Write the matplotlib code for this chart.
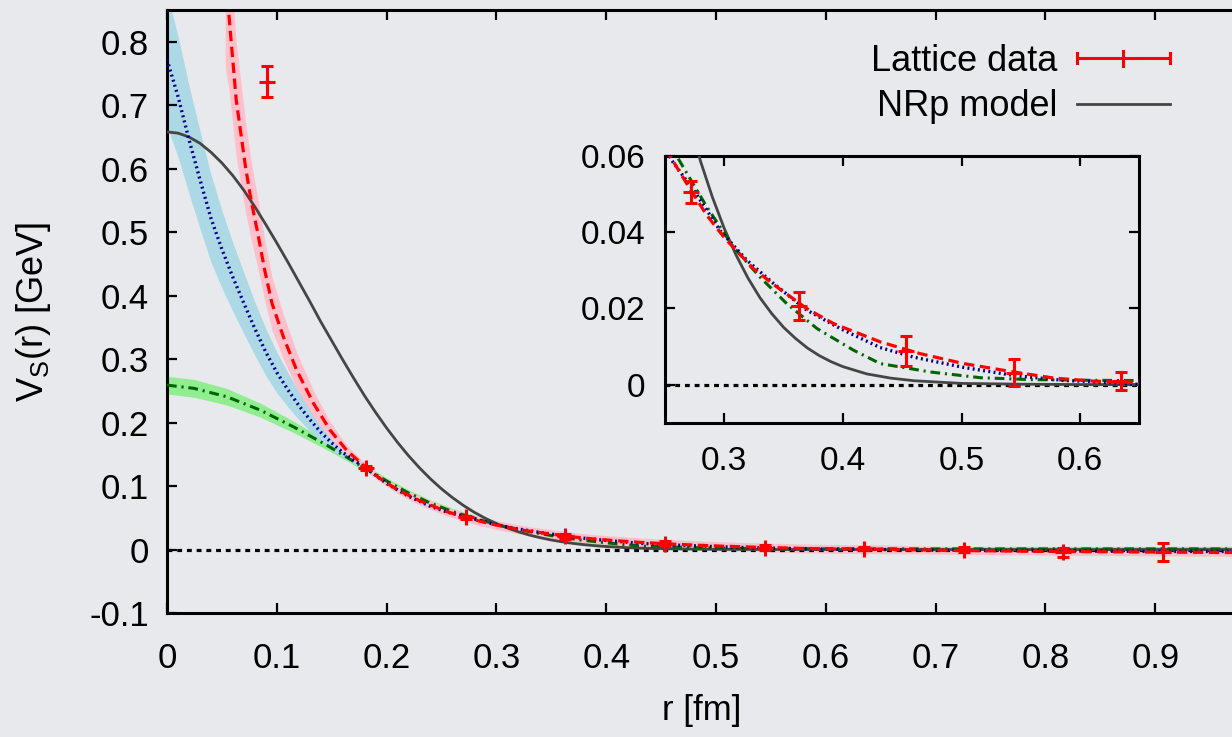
import matplotlib
matplotlib.use('Agg')
import matplotlib.pyplot as plt
import numpy as np
from matplotlib.lines import Line2D
from matplotlib.legend_handler import HandlerBase
from matplotlib.container import ErrorbarContainer
from matplotlib.ticker import FuncFormatter

plt.rcParams['font.family'] = ['Liberation Sans', 'DejaVu Sans']
plt.rcParams['mathtext.fontset'] = 'custom'
plt.rcParams['mathtext.rm'] = 'Liberation Sans'
plt.rcParams['mathtext.it'] = 'Liberation Sans:italic'
plt.rcParams['axes.unicode_minus'] = False
plt.rcParams['lines.scale_dashes'] = False

# lattice data
lat_r = [0.0907, 0.1814, 0.2721, 0.3628, 0.4535, 0.5442, 0.6349, 0.7256, 0.8163, 0.9070]
lat_v = [0.737, 0.128, 0.0505, 0.0206, 0.0088, 0.0031, 0.0009, 0.0, -0.004, -0.004]
lat_e = [0.024, 0.003, 0.0028, 0.0037, 0.0039, 0.0036, 0.0024, 0.004, 0.007, 0.0148]

# red dashed fit + band
red_r = [0.053, 0.056, 0.063, 0.0714, 0.0765, 0.0826, 0.089, 0.0956, 0.106, 0.118,
         0.1335, 0.1486, 0.1638, 0.182, 0.194, 0.21, 0.23, 0.2556, 0.2709, 0.2852,
         0.3006, 0.3245, 0.3443, 0.3696, 0.392, 0.4314, 0.4652, 0.5017, 0.544, 0.5778,
         0.6114, 0.648, 0.70, 0.80, 0.90, 1.0]
red_v = [0.90, 0.85, 0.709, 0.604, 0.551, 0.499, 0.440, 0.388, 0.335, 0.283,
         0.230, 0.188, 0.156, 0.128, 0.112, 0.094, 0.077, 0.0592, 0.0514, 0.0444,
         0.0383, 0.0304, 0.0256, 0.0199, 0.016, 0.0112, 0.0081, 0.0055, 0.0033, 0.0017,
         0.0009, 0.0005, -0.001, -0.003, -0.004, -0.005]
red_e = [0.14, 0.12, 0.09, 0.072, 0.062, 0.055, 0.048, 0.042, 0.035, 0.028,
         0.02, 0.013, 0.008, 0.005, 0.005, 0.006, 0.007, 0.007, 0.007, 0.007,
         0.007, 0.007, 0.007, 0.007, 0.007, 0.007, 0.007, 0.007, 0.007, 0.007,
         0.007, 0.007, 0.006, 0.006, 0.006, 0.006]

# blue dotted fit + band
blue_r = [0, 0.01, 0.02, 0.03, 0.04, 0.05, 0.06, 0.07, 0.08, 0.09,
          0.10, 0.11, 0.12, 0.13, 0.14, 0.15, 0.16, 0.17, 0.18, 0.20,
          0.22, 0.24, 0.2556, 0.2752, 0.2964, 0.319, 0.3415, 0.3696, 0.3977, 0.4314,
          0.4595, 0.5017, 0.5437, 0.5859, 0.628, 0.70, 0.80, 0.90, 1.0]
blue_v = [0.772, 0.714, 0.646, 0.583, 0.522, 0.473, 0.429, 0.388, 0.348, 0.311,
          0.279, 0.252, 0.227, 0.205, 0.185, 0.168, 0.153, 0.141, 0.130, 0.104,
          0.084, 0.068, 0.0588, 0.0505, 0.0404, 0.0326, 0.0265, 0.0195, 0.0147, 0.0097,
          0.0072, 0.0045, 0.0024, 0.0011, 0.0005, -0.001, -0.002, -0.003, -0.003]
blue_e = [0.105, 0.095, 0.085, 0.077, 0.069, 0.061, 0.054, 0.048, 0.042, 0.037,
          0.032, 0.027, 0.022, 0.018, 0.014, 0.011, 0.008, 0.006, 0.004, 0.004,
          0.004, 0.004, 0.004, 0.004, 0.004, 0.004, 0.004, 0.004, 0.004, 0.004,
          0.004, 0.004, 0.004, 0.003, 0.003, 0.003, 0.003, 0.003, 0.003]

# green dash-dot fit + band
green_r = [0, 0.0244, 0.0547, 0.085, 0.1153, 0.1456, 0.1759, 0.20, 0.22, 0.24,
           0.2612, 0.2852, 0.3076, 0.33, 0.3527, 0.3781, 0.409, 0.4314, 0.4736, 0.5158,
           0.558, 0.614, 0.70, 0.80, 0.90, 1.0]
green_v = [0.259, 0.254, 0.2406, 0.2196, 0.1932, 0.1643, 0.1327, 0.108, 0.089, 0.073,
           0.0592, 0.0466, 0.0361, 0.0282, 0.0212, 0.0147, 0.009, 0.0055, 0.0033, 0.0018,
           0.0013, 0.0011, 0.001, 0.001, 0.001, 0.001]
green_e = [0.014, 0.014, 0.013, 0.011, 0.009, 0.007, 0.005, 0.005, 0.005, 0.005,
           0.005, 0.005, 0.005, 0.005, 0.005, 0.005, 0.005, 0.005, 0.004, 0.004,
           0.004, 0.004, 0.004, 0.004, 0.004, 0.004]

# NRp model (read every 0.01 fm)
nrp_r = [0.00, 0.01, 0.02, 0.03, 0.04, 0.05, 0.06, 0.07, 0.08, 0.09,
         0.10, 0.11, 0.12, 0.13, 0.14, 0.15, 0.16, 0.17, 0.18, 0.19,
         0.20, 0.21, 0.22, 0.23, 0.24, 0.25, 0.26, 0.27, 0.28, 0.29,
         0.30, 0.31, 0.32, 0.33, 0.34, 0.35, 0.36, 0.37, 0.38, 0.39,
         0.40, 0.42, 0.44, 0.46, 0.50, 0.55, 0.60, 0.80, 1.00]
nrp_v = [0.658, 0.656, 0.650, 0.640, 0.626, 0.609, 0.589, 0.566, 0.540, 0.512,
         0.483, 0.453, 0.422, 0.391, 0.359, 0.329, 0.299, 0.270, 0.242, 0.216,
         0.1915, 0.1687, 0.1477, 0.1286, 0.1112, 0.0956, 0.0817, 0.0694, 0.0585, 0.0491,
         0.0409, 0.0339, 0.0279, 0.0228, 0.0186, 0.0150, 0.0121, 0.0096, 0.0076, 0.0060,
         0.0047, 0.0028, 0.0017, 0.0010, 0.0003, 0.0001, 0.0, 0.0, 0.0]


class HandlerHBar(HandlerBase):
    def create_artists(self, legend, orig_handle, xdescent, ydescent,
                       width, height, fontsize, trans):
        y = height / 2 - ydescent
        x0, x1 = -xdescent, width - xdescent
        xm = (x0 + x1) / 2
        h = 0.2 * height
        arts = [Line2D([x0, x1], [y, y]),
                Line2D([x0, x0], [y - h, y + h]),
                Line2D([x1, x1], [y - h, y + h]),
                Line2D([xm, xm], [y - 1.5 * h, y + 1.5 * h])]
        for a in arts:
            a.set_color('red')
            a.set_linewidth(2.2)
            a.set_transform(trans)
        return arts


fmt = FuncFormatter(lambda v, p: '%g' % round(v, 4))

fig = plt.figure(figsize=(12.32, 7.37), dpi=100, facecolor='#e8e9ec')

ax = fig.add_axes([167 / 1232, 1 - 613 / 737, 1098 / 1232, 603 / 737])
ax.set_facecolor('none')


def band(a, r, v, e, color):
    v = np.array(v)
    e = np.array(e)
    a.fill_between(r, v - e, v + e, color=color, lw=0, zorder=1)


band(ax, green_r, green_v, green_e, '#90ee90')
band(ax, blue_r, blue_v, blue_e, '#add8e6')
band(ax, red_r, red_v, red_e, '#ffc0cb')


def curves(a):
    a.axhline(0, color='black', lw=2.3, dashes=(3.5, 3.5), zorder=2)
    a.plot(nrp_r, nrp_v, color='#454545', lw=2.0, zorder=3)
    a.plot(green_r, green_v, color='#006400', lw=2.2, dashes=(7, 3.5, 1.5, 3.5), zorder=4)
    a.plot(blue_r, blue_v, color='#00008b', lw=2.4, dashes=(1.4, 2.4), zorder=5)
    a.plot(red_r, red_v, color='red', lw=2.3, dashes=(7.5, 4), zorder=6)


curves(ax)
eb = ax.errorbar(lat_r, lat_v, yerr=lat_e, fmt='+', color='red', ms=11, mew=2.2,
                 elinewidth=2.2, capsize=4.5, capthick=2.2, zorder=7)
nrp_handle = Line2D([], [], color='#454545', lw=2)

ax.set_xlim(0, 1.0)
ax.set_ylim(-0.1, 0.85)
ax.set_xticks(np.arange(0, 0.91, 0.1))
ax.set_yticks(np.arange(-0.1, 0.81, 0.1))
ax.xaxis.set_major_formatter(fmt)
ax.yaxis.set_major_formatter(fmt)
ax.tick_params(direction='in', length=7, width=1.6, top=True, right=True,
               labelsize=25)
ax.tick_params(axis='x', pad=21)
ax.tick_params(axis='y', pad=13)
for s in ax.spines.values():
    s.set_linewidth(2.2)

ax.set_xlabel('r [fm]', fontsize=25)
ax.xaxis.set_label_coords(0.487, -0.135)
ax.set_ylabel(r'V$_{\rm S}$(r) [GeV]', fontsize=26)
ax.yaxis.set_label_coords(-0.104, 0.5)

leg = ax.legend([eb, nrp_handle], ['Lattice data', 'NRp model'],
                handler_map={ErrorbarContainer: HandlerHBar()},
                loc='upper right', bbox_to_anchor=(1170 / 1232, 1 - 44 / 737),
                bbox_transform=fig.transFigure, frameon=False, fontsize=26,
                markerfirst=False, handlelength=2.58, handletextpad=0.55,
                labelspacing=0.29, borderpad=0, borderaxespad=0)

# inset
axi = fig.add_axes([665 / 1232, 1 - 422.7 / 737, 474.4 / 1232, 267 / 737])
axi.set_facecolor('none')
curves(axi)
axi.errorbar(lat_r, lat_v, yerr=lat_e, fmt='+', color='red', ms=11, mew=2.2,
             elinewidth=2.2, capsize=4.5, capthick=2.2, zorder=7)
axi.set_xlim(0.25, 0.65)
axi.set_ylim(-0.01, 0.06)
axi.set_xticks([0.3, 0.4, 0.5, 0.6])
axi.set_yticks([0, 0.02, 0.04, 0.06])
axi.xaxis.set_major_formatter(fmt)
axi.yaxis.set_major_formatter(fmt)
axi.tick_params(direction='in', length=7, width=1.6, top=True, right=True,
                labelsize=24)
axi.tick_params(axis='x', pad=17)
axi.tick_params(axis='y', pad=14)
for s in axi.spines.values():
    s.set_linewidth(2.2)

fig.savefig('out.png', dpi=100, facecolor=fig.get_facecolor())
